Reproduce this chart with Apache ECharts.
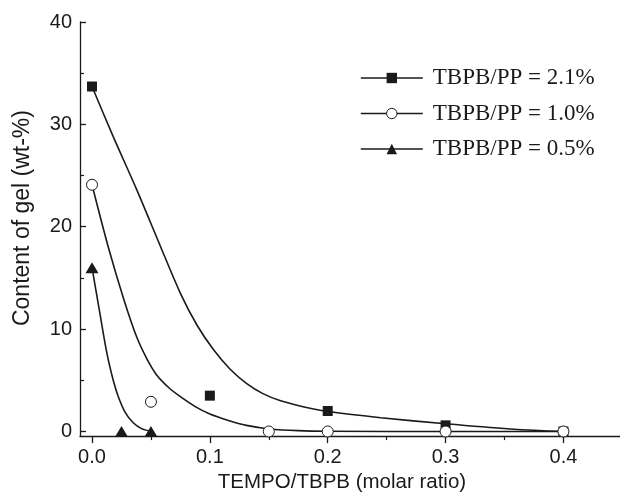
<!DOCTYPE html>
<html><head><meta charset="utf-8">
<script src="https://cdn.jsdelivr.net/npm/echarts@6/dist/echarts.min.js"></script>
<style>html,body{margin:0;padding:0;background:#fff}#c{width:620px;height:498px}</style>
</head><body><div id="c"></div>
<script>
const seriesNames = ['TBPB/PP = 2.1%', 'TBPB/PP = 1.0%', 'TBPB/PP = 0.5%'];
const xTicks = [0, 0.1, 0.2, 0.3, 0.4];
const xMinorTicks = [0.05, 0.15, 0.25, 0.35];
const yTicks = [0, 10, 20, 30, 40];
const yMinorTicks = [5, 15, 25, 35];
const xTitle = 'TEMPO/TBPB (molar ratio)';
const yTitle = 'Content of gel (wt-%)';

// measured points
const pts21 = [[0, 33.7], [0.1, 3.5], [0.2, 2.0], [0.3, 0.6], [0.4, 0]];
const pts10 = [[0, 24.1], [0.05, 2.9], [0.15, 0], [0.2, 0], [0.3, 0], [0.4, 0]];
const pts05 = [[0, 16.0], [0.025, 0], [0.05, 0]];

// fitted curves
const fit21 = [[0, 33.7], [0.018, 28.8], [0.038, 23.6], [0.058, 18.1], [0.075, 13.5], [0.089, 10.4],
  [0.103, 8.0], [0.117, 6.1], [0.131, 4.7], [0.145, 3.7], [0.16, 3.0], [0.18, 2.4], [0.2, 1.95],
  [0.245, 1.35], [0.3, 0.75], [0.355, 0.25], [0.4, 0.0]];
const fit10 = [[0, 24.1], [0.0136, 18.1], [0.027, 12.9], [0.038, 9.2], [0.047, 7.0], [0.055, 5.5],
  [0.065, 4.3], [0.075, 3.4], [0.088, 2.4], [0.1, 1.7], [0.115, 1.1], [0.131, 0.6], [0.151, 0.25],
  [0.175, 0.08], [0.2, 0.02], [0.3, 0.0], [0.4, 0.0]];
const fit05 = [[0, 16.0], [0.006, 12.0], [0.0127, 7.6], [0.018, 5.0], [0.022, 3.5], [0.028, 1.9],
  [0.035, 0.85], [0.042, 0.28], [0.05, 0.02]];

const ink = '#1a1a1a';
const sans = 'Liberation Sans, Arial, sans-serif';
const serif = 'Liberation Serif, Times New Roman, serif';

const markerDefs = [
  { symbol: 'rect', size: 10, itemStyle: { color: ink, opacity: 1 } },
  { symbol: 'circle', size: 11, itemStyle: { color: '#fff', borderColor: ink, borderWidth: 1, opacity: 1 } },
  { symbol: 'triangle', size: [13, 11], itemStyle: { color: ink, opacity: 1 } }
];
const fits = [fit21, fit10, fit05];
const pts = [pts21, pts10, pts05];

const series = [];
fits.forEach((f, i) => {
  series.push({
    type: 'line', name: seriesNames[i], data: f, smooth: 0.3,
    showSymbol: false, symbol: markerDefs[i].symbol, symbolSize: 10,
    lineStyle: { color: ink, width: 1.6 }, itemStyle: markerDefs[i].itemStyle,
    xAxisIndex: 0, yAxisIndex: 0, z: 2, clip: false
  });
});
// scatter order: squares, triangles, then circles on top
[0, 2, 1].forEach(i => {
  series.push({
    type: 'scatter', name: seriesNames[i], data: pts[i], symbol: markerDefs[i].symbol,
    symbolSize: markerDefs[i].size, itemStyle: markerDefs[i].itemStyle,
    xAxisIndex: 0, yAxisIndex: 0, z: 3, clip: false
  });
});

const xMin = -0.0102, xMax = 0.448, yMin = -0.45, yMax = 40;
const axisLine = { show: true, onZero: false, lineStyle: { color: ink, width: 1.3 } };

const option = {
  animation: false,
  backgroundColor: '#fff',
  grid: { left: 80, right: 0, top: 22, bottom: 60, containLabel: false },
  legend: {
    orient: 'vertical', left: 360, top: 66.5, padding: 0, itemWidth: 62, itemHeight: 13, itemGap: 12.5,
    textStyle: { fontFamily: serif, fontSize: 23, color: ink, padding: [0, 0, 0, 5] },
    data: seriesNames.map((n, i) => ({ name: n, itemStyle: markerDefs[i].itemStyle, lineStyle: { color: ink, width: 1.6 } })),
    selectedMode: false
  },
  xAxis: [
    {
      type: 'value', min: xMin, max: xMax, position: 'bottom',
      axisLine: axisLine,
      axisTick: { show: true, inside: false, length: 7, lineStyle: { color: ink, width: 1.3 }, customValues: xTicks },
      axisLabel: { customValues: xTicks, formatter: v => v.toFixed(1), fontFamily: sans, fontSize: 20, color: ink, margin: 11 },
      splitLine: { show: false },
      name: xTitle, nameLocation: 'middle', nameGap: 33,
      nameTextStyle: { fontFamily: sans, fontSize: 20.5, color: ink, padding: [0, 16, 0, 0] }
    },
    {
      type: 'value', min: xMin, max: xMax, position: 'bottom',
      axisLine: { show: false, onZero: false },
      axisTick: { show: true, inside: false, length: 4, lineStyle: { color: ink, width: 1.2 }, customValues: xMinorTicks },
      axisLabel: { show: false }, splitLine: { show: false }
    }
  ],
  yAxis: [
    {
      type: 'value', min: yMin, max: yMax, position: 'left',
      axisLine: axisLine,
      axisTick: { show: true, inside: true, length: 6, lineStyle: { color: ink, width: 1.3 }, customValues: yTicks },
      axisLabel: { customValues: yTicks, formatter: v => String(v), fontFamily: sans, fontSize: 20, color: ink, margin: 8 },
      splitLine: { show: false },
      name: yTitle, nameLocation: 'middle', nameGap: 46,
      nameTextStyle: { fontFamily: sans, fontSize: 23, color: ink, padding: [0, 0, 0, 22] }
    },
    {
      type: 'value', min: yMin, max: yMax, position: 'left',
      axisLine: { show: false, onZero: false },
      axisTick: { show: true, inside: true, length: 4, lineStyle: { color: ink, width: 1.2 }, customValues: yMinorTicks },
      axisLabel: { show: false }, splitLine: { show: false }
    }
  ],
  series: series
};
const chart = echarts.init(document.getElementById('c'), null, { renderer: 'canvas' });
chart.setOption(option);
</script></body></html>
